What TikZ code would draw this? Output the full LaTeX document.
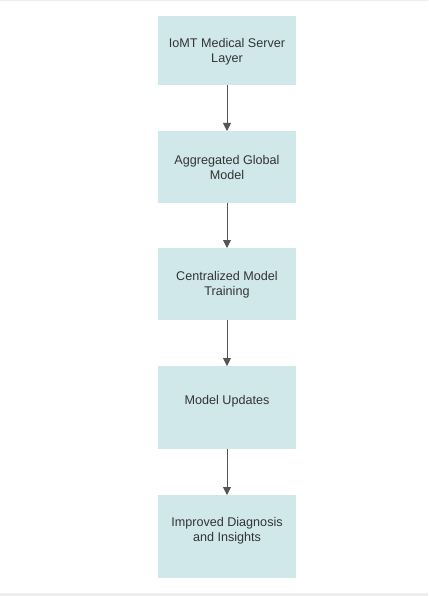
\documentclass[tikz,border=0pt]{standalone}
\usepackage{fontspec}
\setmainfont{Liberation Sans}
\usetikzlibrary{arrows.meta}
\definecolor{boxfill}{HTML}{D0E8EA}
\definecolor{txt}{HTML}{333333}
\definecolor{arr}{HTML}{555555}
\definecolor{edge}{HTML}{EEEEEE}
\begin{document}
\begin{tikzpicture}[x=1pt,y=-1pt,
  box/.style={fill=boxfill,draw=none,minimum width=138pt,inner sep=0pt,outer sep=0pt},
  lbl/.style={text=txt,font=\fontsize{12.6}{15}\selectfont,align=center,inner sep=0pt},
  conn/.style={draw=arr,line width=0.9pt,-{Triangle[length=8pt,width=8pt]}}]
\useasboundingbox (0,0) rectangle (428,596);
\fill[white] (0,0) rectangle (428,596);
\fill[edge] (0,0) rectangle (428,1.2);
\fill[edge] (0,593) rectangle (428,596);
\node[box,minimum height=69pt] (b1) at (227,50.5) {};
\node[box,minimum height=72pt] (b2) at (227,167) {};
\node[box,minimum height=72pt] (b3) at (227,284) {};
\node[box,minimum height=83pt] (b4) at (227,407.5) {};
\node[box,minimum height=83pt] (b5) at (227,536.5) {};
\node[lbl] (t1) at (227,51.5) {IoMT Medical Server\\Layer};
\node[lbl] (t2) at (227,167.5) {Aggregated Global\\Model};
\node[lbl] (t3) at (227,284.5) {Centralized Model\\Training};
\node[lbl] (t4) at (227,401) {Model Updates};
\node[lbl] (t5) at (227,530.5) {Improved Diagnosis\\and Insights};
\draw[conn] (b1.south) -- (b2.north);
\draw[conn] (b2.south) -- (b3.north);
\draw[conn] (b3.south) -- (b4.north);
\draw[conn] (b4.south) -- (b5.north);
\end{tikzpicture}
\end{document}
